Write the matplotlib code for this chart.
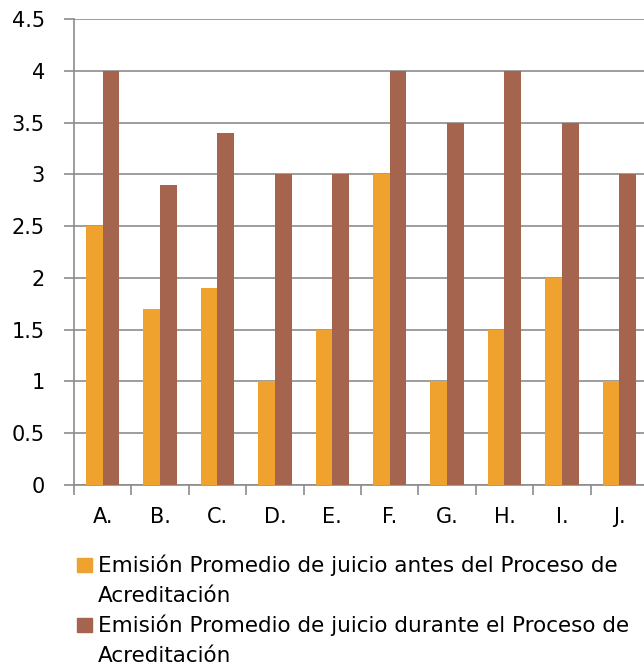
import matplotlib
matplotlib.use("Agg")
import matplotlib.pyplot as plt
from matplotlib.patches import Rectangle
import numpy as np

categories = ["A.", "B.", "C.", "D.", "E.", "F.", "G.", "H.", "I.", "J."]
antes = [2.5, 1.7, 1.9, 1.0, 1.5, 3.0, 1.0, 1.5, 2.0, 1.0]
durante = [4.0, 2.9, 3.4, 3.0, 3.0, 4.0, 3.5, 4.0, 3.5, 3.0]
labels = ["Emisión Promedio de juicio antes del Proceso de\nAcreditación",
          "Emisión Promedio de juicio durante el Proceso de\nAcreditación"]
yticks = [0, 0.5, 1, 1.5, 2, 2.5, 3, 3.5, 4, 4.5]
ytick_labels = ["0", "0.5", "1", "1.5", "2", "2.5", "3", "3.5", "4", "4.5"]

plt.rcParams['font.family'] = ['DejaVu Sans']
W, H = 644, 665
fig = plt.figure(figsize=(W/100, H/100), dpi=100)
left, right, top, bottom = 74, 648, 19, 485
ax = fig.add_axes([left/W, 1 - bottom/H, (right-left)/W, (bottom-top)/H])

c1 = "#F0A22E"
c2 = "#A5644E"
gray = "#8c8c8c"
x = np.arange(len(categories))
bw = 0.29
b1 = ax.bar(x - bw/2, antes, bw, color=c1, zorder=3)
b2 = ax.bar(x + bw/2, durante, bw, color=c2, zorder=3)

ax.set_xlim(-0.5, len(categories) - 0.5)
ax.set_ylim(0, 4.5)
ax.set_yticks(yticks)
ax.set_yticklabels(ytick_labels, fontsize=15)
ax.yaxis.grid(True, color=gray, linewidth=1.2, zorder=0)
ax.set_axisbelow(True)

ax.set_xticks(x)
ax.set_xticklabels(categories, fontsize=15)
ax.set_xticks(np.arange(-0.5, len(categories), 1), minor=True)
ax.tick_params(axis='x', which='major', length=0, pad=16)
ax.tick_params(axis='x', which='minor', length=7, color=gray, width=1.2)
ax.tick_params(axis='y', length=7, color=gray, width=1.2, pad=14)

for s in ["top", "right"]:
    ax.spines[s].set_visible(False)
for s in ["left", "bottom"]:
    ax.spines[s].set_color(gray)
    ax.spines[s].set_linewidth(1.2)

# manual legend (marker aligned with first line of each wrapped label)
entries = [(c1, labels[0], 572), (c2, labels[1], 632)]
for col, lab, base in entries:
    fig.patches.append(Rectangle((77/W, 1 - (base)/H), 15/W, 14/H,
                                 transform=fig.transFigure, color=col, zorder=5))
    lines = lab.split("\n")
    for i, ln in enumerate(lines):
        fig.text(98/W, 1 - (base + 30*i)/H, ln, fontsize=15.5,
                 va="baseline", ha="left", color="#000000")

fig.savefig("out.png", dpi=100)
